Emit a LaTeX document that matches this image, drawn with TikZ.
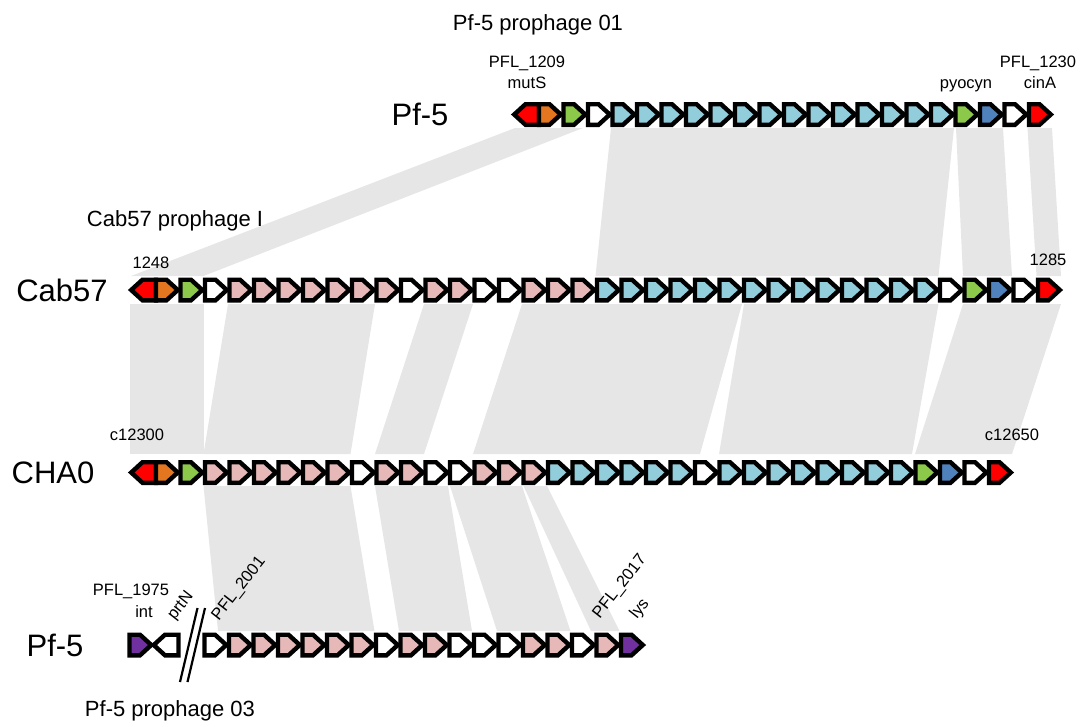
\documentclass[tikz,border=0pt]{standalone}
\usepackage{fontspec}
\setmainfont{Liberation Sans}
\definecolor{cR}{HTML}{FF0000}
\definecolor{cO}{HTML}{E4761F}
\definecolor{cG}{HTML}{8CC84A}
\definecolor{cW}{HTML}{FFFFFF}
\definecolor{cL}{HTML}{92CDDC}
\definecolor{cD}{HTML}{4F81BD}
\definecolor{cP}{HTML}{E6B9B8}
\definecolor{cV}{HTML}{7030A0}
\definecolor{bandgrey}{HTML}{E6E6E6}
\tikzset{
  genestyle/.style={draw=black,line width=4.4pt,line join=miter},
  fwdgene/.pic={\draw[genestyle,fill=#1] (1.5,-10.3) -- (12,-10.3) -- (23.3,0) -- (12,10.3) -- (1.5,10.3) -- cycle;},
  revgene/.pic={\draw[genestyle,fill=#1] (1.2,0) -- (12.5,-10.3) -- (26,-10.3) -- (26,10.3) -- (12.5,10.3) -- cycle;},
  band/.style={fill=bandgrey},
  lblS/.style={font=\fontsize{16.5}{18}\selectfont,inner sep=0pt},
  lblM/.style={font=\fontsize{22}{26}\selectfont,inner sep=0pt},
  lblL/.style={font=\fontsize{31}{36}\selectfont,inner sep=0pt},
  slashline/.style={draw=black,line width=2.2pt}
}
\begin{document}
\begin{tikzpicture}[x=1pt,y=-1pt]
\useasboundingbox (0,0) rectangle (1082,726);
% ---- bands Pf-5 (01) -> Cab57
\fill[band] (515,128) -- (583,128) -- (203.5,276) -- (131,276) -- cycle;
\fill[band] (611,128) -- (954,128) -- (938.5,276) -- (595.5,276) -- cycle;
\fill[band] (956,128) -- (1003,128) -- (1012,276) -- (963,276) -- cycle;
\fill[band] (1027.5,128) -- (1052,128) -- (1061,276) -- (1036.5,276) -- cycle;
% ---- bands Cab57 -> CHA0
\fill[band] (130,304) -- (203.5,304) -- (203.5,454) -- (130,454) -- cycle;
\fill[band] (228,304) -- (375,304) -- (350.5,454) -- (203.5,454) -- cycle;
\fill[band] (424,304) -- (473,304) -- (424,454) -- (375,454) -- cycle;
\fill[band] (522,304) -- (742,304) -- (700,454) -- (473,454) -- cycle;
\fill[band] (744,304) -- (938.5,304) -- (912,454) -- (719,454) -- cycle;
\fill[band] (963,304) -- (1061,304) -- (1012,454) -- (915,454) -- cycle;
% ---- bands CHA0 -> Pf-5 (03)
\fill[band] (203.5,486) -- (350.5,486) -- (374.5,631) -- (218,631) -- cycle;
\fill[band] (375,486) -- (448,486) -- (472,631) -- (399,631) -- cycle;
\fill[band] (450,486) -- (522,486) -- (570.5,631) -- (497,631) -- cycle;
\fill[band] (523.5,486) -- (547,486) -- (619.5,631) -- (591,631) -- cycle;
% ---- Pf-5 prophage 01 row
\pic at (513,114.5) {revgene=cR};
\foreach \c [count=\i from 1] in {O,G,W,L,L,L,L,L,L,L,L,L,L,L,L,L,L,G,D,W,R}
  \pic at ({513+24.5*\i},114.5) {fwdgene=c\c};
% ---- Cab57 row
\pic at (130,290) {revgene=cR};
\foreach \c [count=\i from 1] in {O,G,W,P,P,P,P,P,P,P,W,P,P,W,W,P,P,P,L,L,L,L,L,L,L,L,L,L,L,L,L,L,W,G,D,W,R}
  \pic at ({130+24.5*\i},290) {fwdgene=c\c};
% ---- CHA0 row
\pic at (130,472.5) {revgene=cR};
\foreach \c [count=\i from 1] in {O,G,P,P,P,P,P,P,W,P,P,W,W,P,P,P,L,L,L,L,L,L,W,L,L,L,L,L,L,L,L,G,D,W,R}
  \pic at ({130+24.5*\i},472.5) {fwdgene=c\c};
% ---- Pf-5 prophage 03 row
\pic at (128,645) {fwdgene=cV};
\pic at (152.5,645) {revgene=cW};
\foreach \c [count=\i from 0] in {W,P,P,P,P,P,P,W,P,P,W,W,W,P,P,W,P,V}
  \pic at ({203+24.5*\i},645) {fwdgene=c\c};
% ---- break marks
\coordinate (s1a) at (180,682);
\coordinate (s1b) at (197.5,608);
\coordinate (s2a) at (187.5,682);
\coordinate (s2b) at (205,608);
\draw[slashline] (s1a) -- (s1b);
\draw[slashline] (s2a) -- (s2b);
% ---- labels
\node[lblM,anchor=base] (title1) at (538,30) {Pf-5 prophage 01};
\node[lblS,anchor=base] (l1209) at (527,67) {PFL\_1209};
\node[lblS,anchor=base] (lmutS) at (527,88) {mutS};
\node[lblS,anchor=base] (lpyo) at (966,88) {pyocyn};
\node[lblS,anchor=base] (l1230) at (1038,67) {PFL\_1230};
\node[lblS,anchor=base] (lcinA) at (1040,88) {cinA};
\node[lblL,anchor=base] (nPf5a) at (420,125) {Pf-5};
\node[lblM,anchor=base] (title2) at (175,226) {Cab57 prophage I};
\node[lblS,anchor=base] (l1248) at (151,268) {1248};
\node[lblS,anchor=base] (l1285) at (1048,265) {1285};
\node[lblL,anchor=base] (nCab) at (62,301) {Cab57};
\node[lblS,anchor=base] (lc1) at (137,440) {c12300};
\node[lblS,anchor=base] (lc2) at (1012,440) {c12650};
\node[lblL,anchor=base] (nCHA) at (53,483.5) {CHA0};
\node[lblS,anchor=base] (l1975) at (131,595) {PFL\_1975};
\node[lblS,anchor=base] (lint) at (144,617) {int};
\node[lblS,rotate=52] (lprtN) at (181,606) {prtN};
\node[lblS,rotate=52] (l2001) at (239,589) {PFL\_2001};
\node[lblS,rotate=52] (l2017) at (620,587) {PFL\_2017};
\node[lblS,rotate=52] (llys) at (640,609) {lys};
\node[lblL,anchor=base] (nPf5b) at (55,656) {Pf-5};
\node[lblM,anchor=base] (title3) at (170,716) {Pf-5 prophage 03};
\end{tikzpicture}
\end{document}
